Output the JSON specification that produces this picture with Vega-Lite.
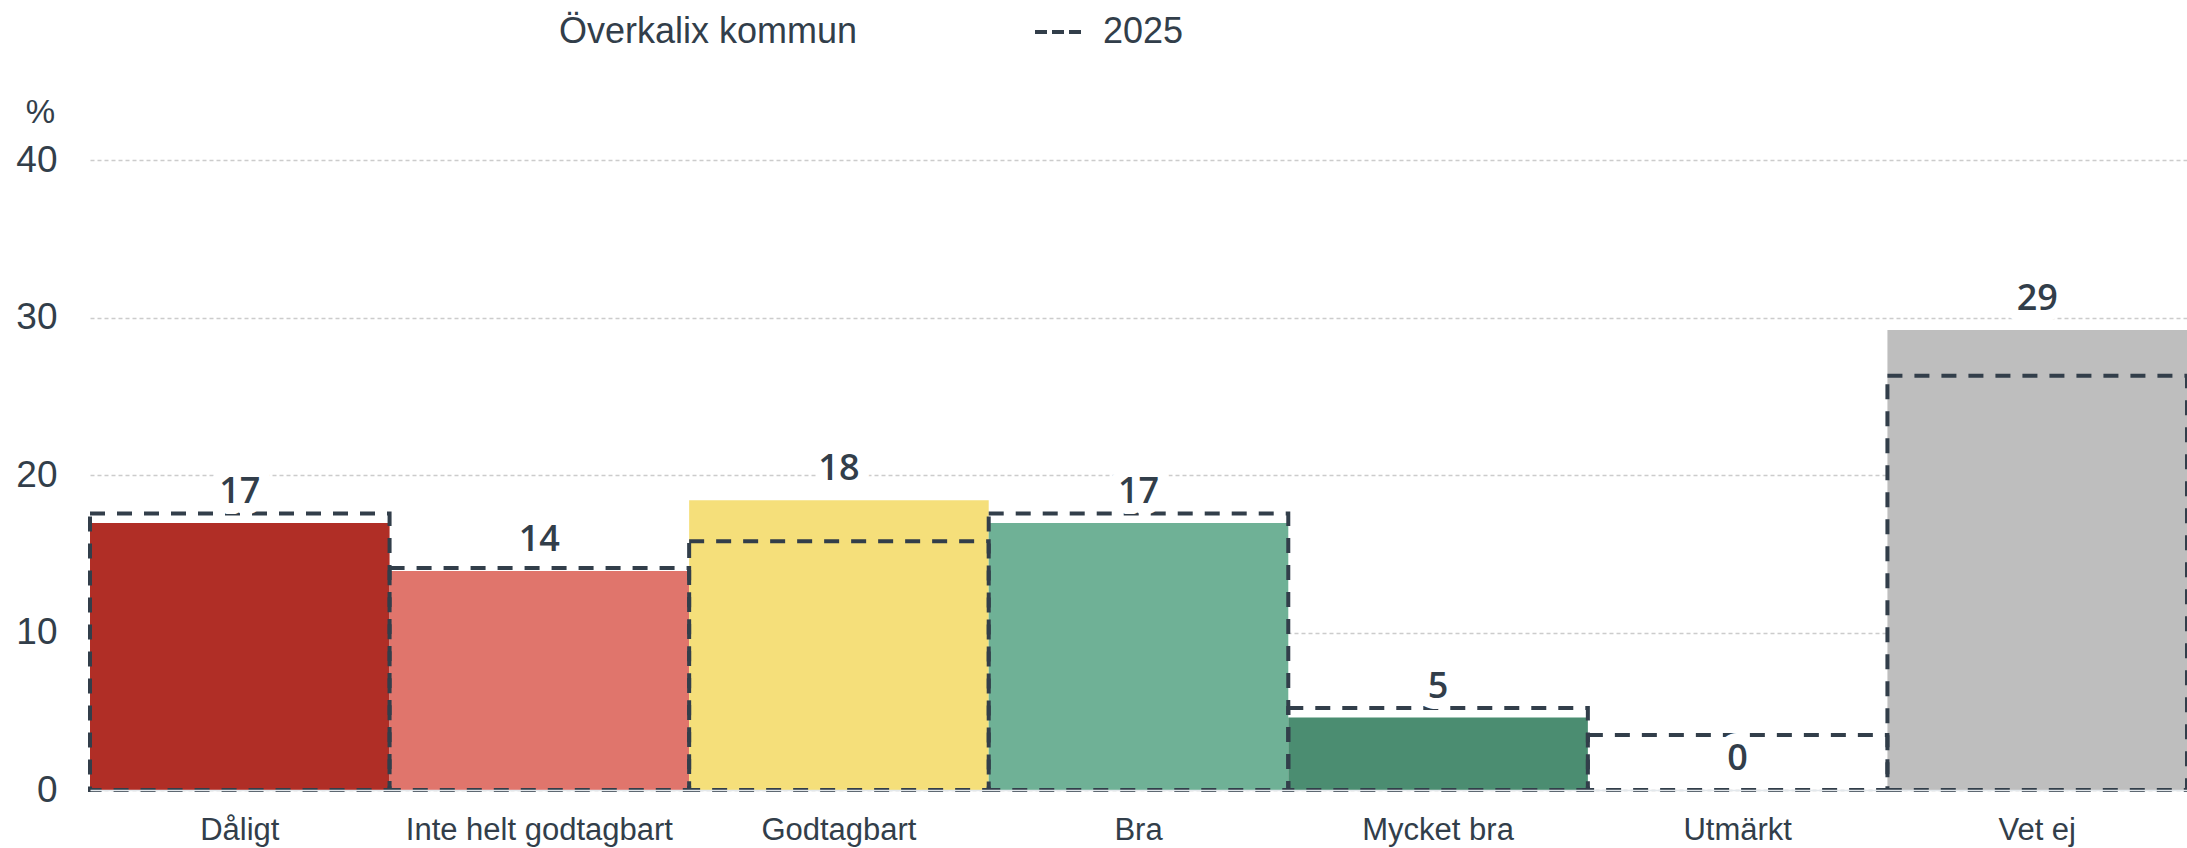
{
  "$schema": "https://vega.github.io/schema/vega-lite/v6.json",
  "width": 2097,
  "height": 630,
  "autosize": {"type": "none"},
  "padding": {"left": 90, "top": 160, "right": 0, "bottom": 58},
  "background": "white",
  "data": {
    "values": [
      {"kategori": "Dåligt", "andel": 16.95, "andel2025": 17.55, "serie": "2025"},
      {"kategori": "Inte helt godtagbart", "andel": 13.9, "andel2025": 14.1, "serie": "2025"},
      {"kategori": "Godtagbart", "andel": 18.4, "andel2025": 15.8, "serie": "2025"},
      {"kategori": "Bra", "andel": 16.95, "andel2025": 17.55, "serie": "2025"},
      {"kategori": "Mycket bra", "andel": 4.6, "andel2025": 5.2, "serie": "2025"},
      {"kategori": "Utmärkt", "andel": 0, "andel2025": 3.5, "serie": "2025"},
      {"kategori": "Vet ej", "andel": 29.2, "andel2025": 26.3, "serie": "2025"}
    ]
  },
  "encoding": {
    "x": {
      "field": "kategori",
      "type": "nominal",
      "sort": ["Dåligt", "Inte helt godtagbart", "Godtagbart", "Bra", "Mycket bra", "Utmärkt", "Vet ej"],
      "scale": {"paddingInner": 0, "paddingOuter": 0},
      "axis": {
        "title": null,
        "labelAngle": 0,
        "labelFont": "Liberation Sans",
        "labelFontSize": 31,
        "labelColor": "#323e4a",
        "labelPadding": 25,
        "labelLimit": 0,
        "ticks": false,
        "domain": true,
        "domainColor": "#e3e8ec",
        "domainWidth": 1.5,
        "grid": false,
        "zindex": 1
      }
    }
  },
  "layer": [
    {
      "mark": {"type": "bar"},
      "encoding": {
        "y": {"field": "andel", "type": "quantitative", "title": "%", "scale": {"domain": [0, 40]}},
        "color": {
          "field": "kategori",
          "type": "nominal",
          "scale": {
            "domain": ["Dåligt", "Inte helt godtagbart", "Godtagbart", "Bra", "Mycket bra", "Utmärkt", "Vet ej"],
            "range": ["#b02e26", "#e0756c", "#f5df7a", "#6fb196", "#4b8d71", "#2f6b52", "#bebebe"]
          },
          "legend": null
        }
      }
    },
    {
      "mark": {"type": "bar", "fill": null, "strokeWidth": 4, "strokeDash": [15, 12]},
      "encoding": {
        "y": {"field": "andel2025", "type": "quantitative", "title": "%"},
        "stroke": {
          "field": "serie",
          "type": "nominal",
          "scale": {"domain": ["Överkalix kommun", "2025"], "range": ["rgba(255,255,255,0)", "#323e4a"]},
          "legend": {
            "orient": "none",
            "legendX": 399,
            "legendY": -153,
            "direction": "horizontal",
            "title": null,
            "symbolType": "stroke",
            "symbolSize": 2116,
            "symbolStrokeWidth": 4,
            "symbolDash": [12, 5],
            "symbolOpacity": 1,
            "labelFont": "Liberation Sans",
            "labelFontSize": 36,
            "labelColor": "#323e4a",
            "labelOffset": 20,
            "labelLimit": 800,
            "columnPadding": 169,
            "padding": 0,
            "encode": {
              "symbols": {
                "strokeWidth": {"value": 4},
                "strokeDash": {"value": [12, 5]},
                "opacity": {"value": 1}
              }
            }
          }
        }
      }
    },
    {
      "mark": {
        "type": "text",
        "dy": -20,
        "baseline": "alphabetic",
        "align": "center",
        "font": "Open Sans",
        "fontSize": 36,
        "fontWeight": 600,
        "fill": "white",
        "stroke": "white",
        "strokeWidth": 22,
        "strokeJoin": "round"
      },
      "encoding": {
        "y": {"field": "andel", "type": "quantitative", "title": "%"},
        "text": {"field": "andel", "type": "quantitative", "format": ".0f"}
      }
    },
    {
      "mark": {
        "type": "text",
        "dy": -20,
        "baseline": "alphabetic",
        "align": "center",
        "font": "Open Sans",
        "fontSize": 36,
        "fontWeight": 600,
        "fill": "#323e4a"
      },
      "encoding": {
        "y": {"field": "andel", "type": "quantitative", "title": "%"},
        "text": {"field": "andel", "type": "quantitative", "format": ".0f"}
      }
    }
  ],
  "config": {
    "view": {"stroke": null},
    "axisY": {
      "tickCount": 4,
      "grid": true,
      "gridColor": "#cccccc",
      "gridDash": [4, 3],
      "gridWidth": 1.5,
      "domain": false,
      "ticks": false,
      "labelFont": "Liberation Sans",
      "labelFontSize": 37,
      "labelColor": "#323e4a",
      "labelPadding": 33,
      "titleAngle": 0,
      "titleX": -50,
      "titleY": -38,
      "titleAlign": "center",
      "titleBaseline": "alphabetic",
      "titleFont": "Liberation Sans",
      "titleFontSize": 33,
      "titleFontWeight": "normal",
      "titleColor": "#323e4a"
    }
  }
}
